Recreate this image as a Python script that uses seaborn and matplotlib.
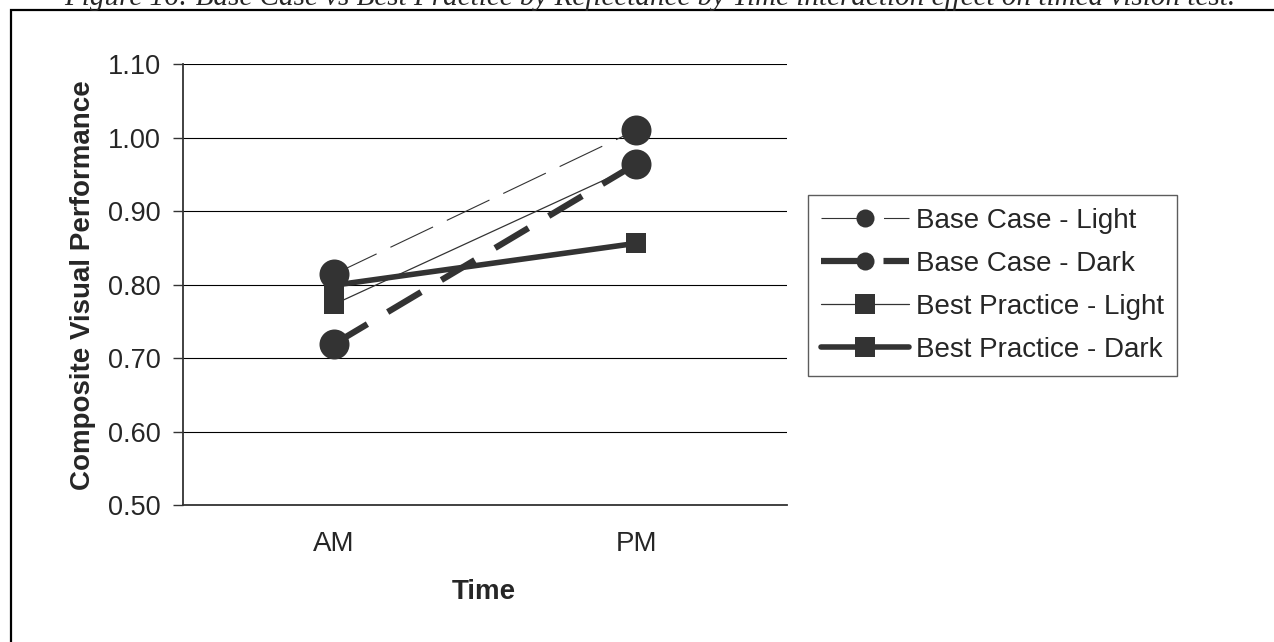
import numpy as np
import pandas as pd
import matplotlib
matplotlib.use('Agg')
import matplotlib.pyplot as plt
import seaborn as sns
from matplotlib.lines import Line2D
from matplotlib.patches import Rectangle

# Data
times = ['AM', 'PM']
base_case_light = [0.814, 1.010]
base_case_dark = [0.719, 0.964]
best_practice_light = [0.773, 0.962]
best_practice_dark = [0.799, 0.856]
y_ticks = [0.50, 0.60, 0.70, 0.80, 0.90, 1.00, 1.10]

title = ('Figure 16: Base Case vs Best Practice by Reflectance by Time '
         'interaction effect on timed vision test.')

sns.set_style('white')
plt.rcParams['font.family'] = ['Liberation Sans', 'DejaVu Sans']
plt.rcParams['lines.scale_dashes'] = False

ink = '#333333'

fig = plt.figure(figsize=(12.74, 6.42), dpi=100)
ax = fig.add_axes([183 / 1274, 1 - 505 / 642, 604 / 1274, 441 / 642])

# style per series: (values, linewidth, linestyle, marker, marker size, zorder)
series = {
    'Base Case - Light': (base_case_light, 0.8, (0, (34, 11)), 'o', 21.6, 5),
    'Base Case - Dark': (base_case_dark, 4.5, (0, (28, 17)), 'o', 21.6, 6),
    'Best Practice - Light': (best_practice_light, 0.9, '-', 's', 14.4, 3),
    'Best Practice - Dark': (best_practice_dark, 4.0, '-', 's', 14.4, 4),
}

x_pos = np.arange(len(times))
handles = []
for name, (vals, lw, ls, mk, ms, z) in series.items():
    df = pd.DataFrame({'x': x_pos, 'value': vals})
    sns.lineplot(data=df, x='x', y='value', ax=ax, color=ink, linewidth=lw,
                 linestyle=ls, marker=mk, markersize=ms, markeredgewidth=0,
                 zorder=z)
    handles.append(Line2D([0], [0], color=ink, linewidth=lw, linestyle=ls,
                          marker=mk, markersize=13 if mk == 'o' else 14,
                          markeredgewidth=0, label=name))

ax.set_xlim(-0.5, 1.5)
ax.set_ylim(0.50, 1.10)
ax.set_yticks(y_ticks)
ax.set_yticklabels([f'{v:.2f}' for v in y_ticks], fontsize=19.5)
ax.yaxis.grid(True, color='black', linewidth=0.8)
ax.set_axisbelow(True)

# category labels in the middle, tick marks on the boundaries
ax.set_xticks(x_pos)
ax.set_xticklabels(times, fontsize=20)
ax.set_xticks([-0.5, 0.5, 1.5], minor=True)
ax.tick_params(axis='x', which='major', length=0, pad=19)
ax.tick_params(axis='x', which='minor', length=7, width=1, color=ink, direction='out')
ax.tick_params(axis='y', length=7, width=1, color=ink, direction='out', pad=9, left=True)
ax.set_xlabel('')
ax.set_ylabel('')

for side in ['top', 'right']:
    ax.spines[side].set_visible(False)
for side in ['left', 'bottom']:
    ax.spines[side].set_color(ink)
    ax.spines[side].set_linewidth(1.3)

fig.text(90 / 1274, 1 - 285 / 642, 'Composite Visual Performance', rotation=90,
         rotation_mode='anchor', ha='center', va='baseline', fontsize=20,
         fontweight='bold')
fig.text(484 / 1274, 1 - 592 / 642, 'Time', ha='center', va='center',
         fontsize=20, fontweight='bold')

leg = fig.legend(handles=handles, loc='upper left',
                 bbox_to_anchor=(808 / 1274, 1 - 195 / 642), borderaxespad=0,
                 fontsize=20, frameon=True, fancybox=False, handlelength=3.2,
                 handletextpad=0.25, labelspacing=0.62, borderpad=0.45)
leg.get_frame().set_edgecolor(ink)
leg.get_frame().set_linewidth(1.0)

# page frame and caption (cut off at the top, as in the source)
fig.patches.append(Rectangle((11 / 1274, -0.1), 1.2, 1 - 10 / 642 + 0.1,
                             transform=fig.transFigure, fill=False,
                             edgecolor='black', linewidth=1.6))
fig.text(650 / 1274, 1 - 5 / 642, title, ha='center', va='baseline',
         fontsize=21, style='italic', family='Liberation Serif')

fig.savefig('out.png', dpi=100)
